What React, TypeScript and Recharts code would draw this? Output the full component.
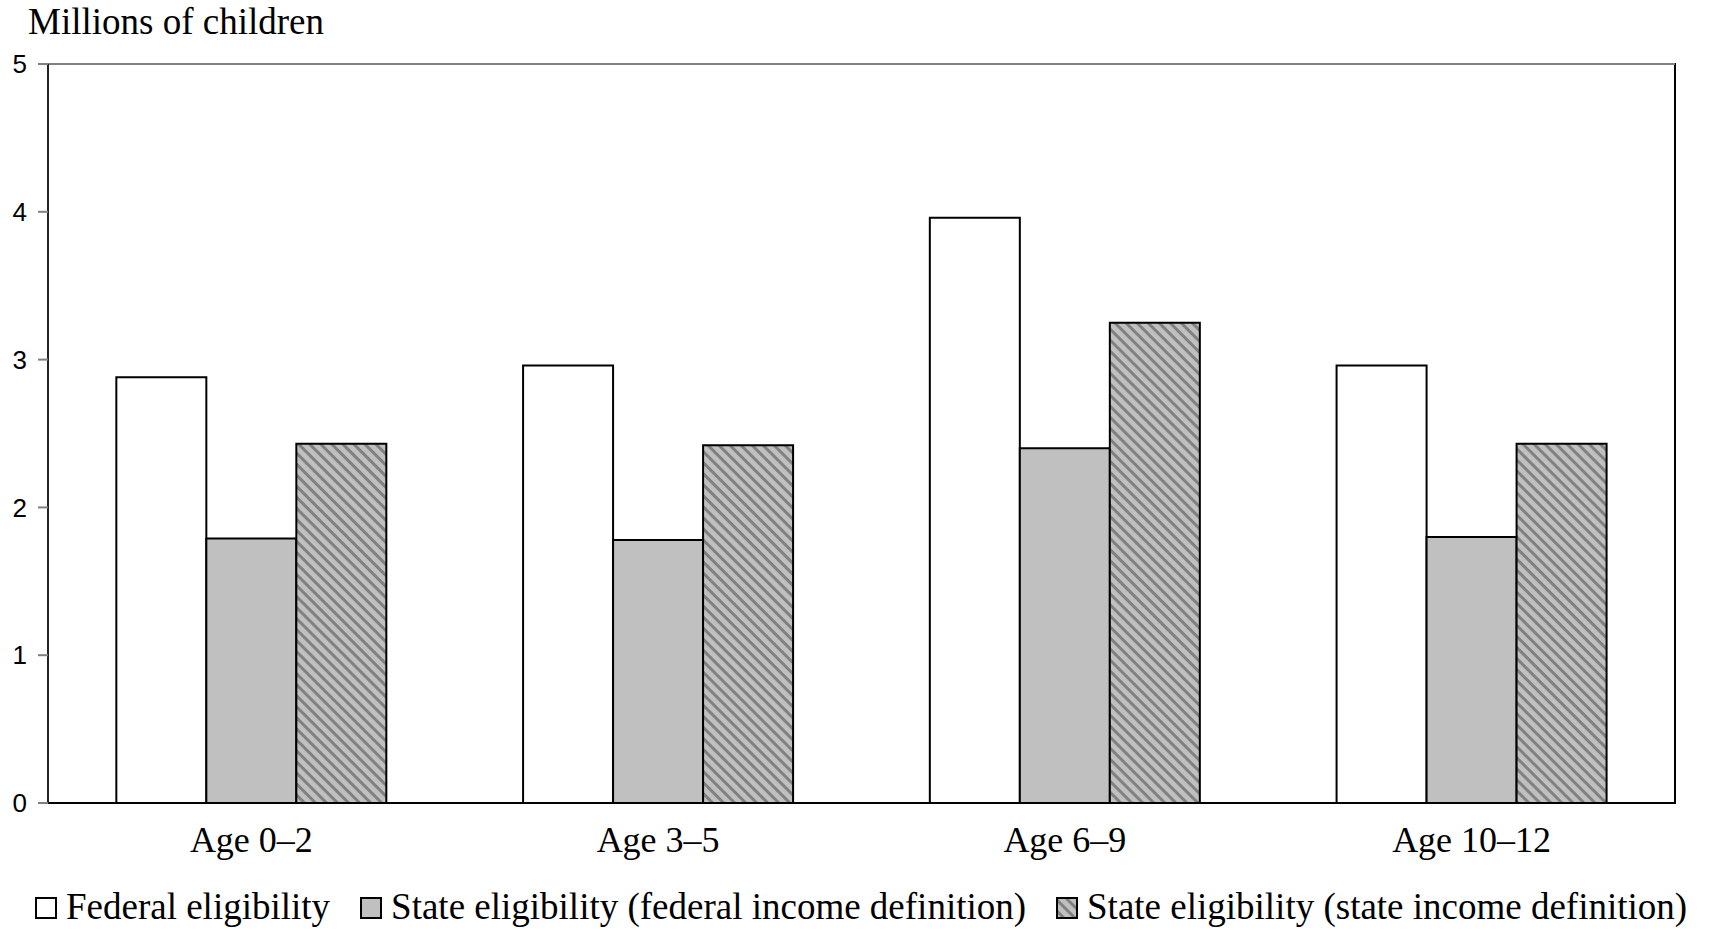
import { BarChart, Bar, XAxis, YAxis, Legend, ReferenceArea, ReferenceLine } from 'recharts';

const categories = ['Age 0–2', 'Age 3–5', 'Age 6–9', 'Age 10–12'];
const federalEligibility = [2.88, 2.96, 3.96, 2.96];
const stateFederalIncome = [1.79, 1.78, 2.4, 1.8];
const stateStateIncome = [2.43, 2.42, 3.25, 2.43];
const yTicks = [0, 1, 2, 3, 4, 5];

const seriesNames = [
  'Federal eligibility',
  'State eligibility (federal income definition)',
  'State eligibility (state income definition)',
];

const data = categories.map((age, i) => ({
  age,
  federal: federalEligibility[i],
  stateFed: stateFederalIncome[i],
  stateState: stateStateIncome[i],
}));

const serif = '"Liberation Serif", "Times New Roman", serif';

function LegendSwatch({ fill }: { fill: string }) {
  return (
    <svg width={22} height={22} style={{ verticalAlign: 'baseline', marginRight: 9 }}>
      <rect x={1} y={1} width={20} height={20} fill={fill} stroke="#000" strokeWidth={2} />
    </svg>
  );
}

function CustomLegend() {
  const fills = ['#ffffff', '#c0c0c0', 'url(#hatch)'];
  return (
    <div
      style={{
        fontFamily: serif,
        fontSize: 37,
        lineHeight: '44px',
        whiteSpace: 'nowrap',
        paddingLeft: 35,
        color: '#000',
      }}
    >
      {seriesNames.map((name, i) => (
        <span key={name} style={{ marginRight: 30 }}>
          <LegendSwatch fill={fills[i]} />
          {name}
        </span>
      ))}
    </div>
  );
}

export default function App() {
  return (
    <div style={{ position: 'absolute', left: 0, top: 0, width: 1713, height: 930, background: '#fff' }}>
      <div
        style={{
          position: 'absolute',
          left: 28,
          top: 1,
          fontFamily: serif,
          fontSize: 37,
          lineHeight: '41px',
          color: '#000',
        }}
      >
        Millions of children
      </div>
      <BarChart
        width={1713}
        height={930}
        data={data}
        margin={{ top: 64, right: 38, left: 0, bottom: 23 }}
        barCategoryGap="16.8%"
        barGap={0}
      >
        <defs>
          <pattern id="hatch" patternUnits="userSpaceOnUse" width={7.8} height={7.8} patternTransform="rotate(45)">
            <rect width={7.8} height={7.8} fill="#c0c0c0" />
            <rect width={7.8} height={3} fill="#808080" />
          </pattern>
        </defs>
        <ReferenceArea y1={0} y2={5} fill="none" stroke="#000" strokeWidth={2} fillOpacity={0} />
        <ReferenceLine y={5} stroke="#808080" strokeWidth={2} />
        <XAxis
          dataKey="age"
          height={60}
          tickLine={false}
          tickMargin={17}
          axisLine={{ stroke: '#000', strokeWidth: 2 }}
          tick={{ fontFamily: serif, fontSize: 36, fill: '#000' }}
        />
        <YAxis
          width={48}
          domain={[0, 5]}
          ticks={yTicks}
          interval={0}
          tickSize={10}
          tickMargin={11}
          tickLine={{ stroke: '#808080', strokeWidth: 2 }}
          axisLine={{ stroke: '#222', strokeWidth: 2 }}
          tick={{ fontFamily: '"Liberation Sans", Arial, sans-serif', fontSize: 26, fill: '#000' }}
        />
        <Legend
          verticalAlign="bottom"
          content={<CustomLegend />}
          wrapperStyle={{ left: 0, top: 884.5, bottom: 'auto', width: 1713, height: 44 }}
        />
        <Bar dataKey="federal" name={seriesNames[0]} fill="#ffffff" stroke="#000" strokeWidth={2} isAnimationActive={false} />
        <Bar dataKey="stateFed" name={seriesNames[1]} fill="#c0c0c0" stroke="#000" strokeWidth={2} isAnimationActive={false} />
        <Bar dataKey="stateState" name={seriesNames[2]} fill="url(#hatch)" stroke="#000" strokeWidth={2} isAnimationActive={false} />
      </BarChart>
    </div>
  );
}
